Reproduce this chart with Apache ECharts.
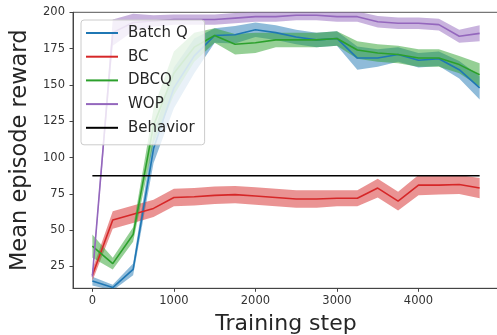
<!DOCTYPE html>
<html>
<head>
<meta charset="utf-8">
<script src="https://cdn.jsdelivr.net/npm/echarts@6/dist/echarts.min.js"></script>
<style>
html,body{margin:0;padding:0;background:#fff;}
#chart{width:497px;height:335px;}
</style>
</head>
<body>
<div id="chart"></div>
<script>
// ---- data ----
var steps = [0, 250, 500, 750, 1000, 1250, 1500, 1750, 2000, 2250, 2500, 2750, 3000, 3250, 3500, 3750, 4000, 4250, 4500, 4750];

var batchQ       = [15, 10.5, 23, 106, 148, 170, 184, 184.5, 188, 186, 183, 181, 182, 168.5, 168.5, 171, 167, 168, 160.5, 148];
var batchQSpread = [3, 2, 4, 10, 14, 12, 5, 6, 5, 5, 5, 5, 5, 8, 6, 5, 5, 5, 6, 8];

var bc           = [19, 57, 61, 65, 72.5, 73, 74, 74.5, 73.5, 72.5, 71.5, 71.5, 72, 72, 79, 70, 81, 81, 81.5, 79];
var bcSpread     = [4, 6, 6, 6, 6, 6, 6, 6, 6, 6, 6, 6, 5.5, 5.5, 6.5, 6.5, 7, 6.5, 6.5, 7];

var dbcq         = [39, 27, 47, 122, 158, 176, 184, 178, 179, 181, 181, 181, 182, 174, 172, 171, 168.5, 168.5, 164, 157];
var dbcqSpread   = [8, 4, 5, 12, 15, 10, 5, 7, 7, 5, 5, 5, 5, 6, 6, 6, 6, 6, 6, 8];

var wop          = [18, 186, 193, 194, 195, 195, 195, 196, 197, 197, 198, 198, 197, 197, 193.5, 192.5, 192.5, 191.5, 183.5, 185.5];
var wopSpread    = [2, 9, 6, 4, 3.5, 3.5, 3.5, 3.5, 3.5, 3.5, 3.5, 3.5, 3.5, 3.5, 4, 4, 4, 4, 4.5, 5.5];

var behaviorSteps  = [0, 4750];
var behaviorReward = [87.5, 87.5];

var xTicks = [0, 1000, 2000, 3000, 4000];
var yTicks = [25, 50, 75, 100, 125, 150, 175, 200];

var seriesNames = ['Batch Q', 'BC', 'DBCQ', 'WOP', 'Behavior'];
var colors = ['#1f77b4', '#d62728', '#2ca02c', '#9467bd', '#000000'];

// ---- build options ----
var FONT = 'DejaVu Sans';
function pairs(xs, ys) { return xs.map(function (x, i) { return [x, ys[i]]; }); }

var series = [];
function addBand(name, color, mean, spread) {
  // band polygon: upper edge forward, lower edge backward (converted by the axes)
  series.push({
    name: name + ' band', type: 'custom', silent: true, clip: true,
    data: [[steps[0], mean[0]]],
    renderItem: function (params, api) {
      var pts = [];
      for (var i = 0; i < steps.length; i++) pts.push(api.coord([steps[i], mean[i] + spread[i]]));
      for (var j = steps.length - 1; j >= 0; j--) pts.push(api.coord([steps[j], mean[j] - spread[j]]));
      return {
        type: 'polygon',
        shape: { points: pts },
        style: { fill: color, opacity: 0.5 }
      };
    }
  });
  series.push({
    name: name, type: 'line', symbol: 'none', data: pairs(steps, mean),
    lineStyle: { color: color, width: 1.6 }, itemStyle: { color: color }
  });
}
addBand(seriesNames[0], colors[0], batchQ, batchQSpread);
addBand(seriesNames[1], colors[1], bc, bcSpread);
addBand(seriesNames[2], colors[2], dbcq, dbcqSpread);
addBand(seriesNames[3], colors[3], wop, wopSpread);
series.push({
  name: seriesNames[4], type: 'line', symbol: 'none',
  data: pairs(behaviorSteps, behaviorReward),
  lineStyle: { color: colors[4], width: 1.6 }, itemStyle: { color: colors[4] }
});

var chart = echarts.init(document.getElementById('chart'), null, { renderer: 'canvas' });
chart.setOption({
  animation: false,
  backgroundColor: '#fff',
  grid: {
    left: 73, top: 12.3, right: -2, bottom: 46.7,
    outerBoundsMode: 'none', containLabel: false,
    show: true, borderColor: '#555', borderWidth: 1, backgroundColor: 'transparent'
  },
  legend: {
    data: seriesNames, orient: 'vertical', left: 81, top: 20,
    icon: 'rect', itemWidth: 32, itemHeight: 2, itemGap: 7.7,
    padding: [5, 10, 9, 5],
    backgroundColor: 'rgba(255,255,255,0.8)', borderColor: '#cccccc', borderWidth: 1, borderRadius: 3,
    textStyle: { fontFamily: FONT, fontSize: 15, color: '#262626', lineHeight: 16, padding: [0, 0, 0, 5] }
  },
  xAxis: {
    type: 'value', min: -237.5, max: 4987.5,
    name: 'Training step', nameLocation: 'middle', nameGap: 25,
    nameTextStyle: { fontFamily: FONT, fontSize: 22, color: '#262626' },
    axisLine: { show: true, onZero: false, lineStyle: { color: '#444', width: 1 } },
    axisTick: { show: true, length: 3.5, customValues: xTicks, lineStyle: { color: '#444' } },
    axisLabel: { customValues: xTicks, fontFamily: FONT, fontSize: 11.5, color: '#333', margin: 7,
                 formatter: function (v) { return String(v); } },
    splitLine: { show: false }
  },
  yAxis: {
    type: 'value', min: 10, max: 200,
    name: 'Mean episode reward', nameLocation: 'middle', nameGap: 40, nameRotate: 90,
    nameTextStyle: { fontFamily: FONT, fontSize: 22.5, color: '#262626' },
    axisLine: { show: true, onZero: false, lineStyle: { color: '#444', width: 1 } },
    axisTick: { show: true, length: 3.5, customValues: yTicks, lineStyle: { color: '#444' } },
    axisLabel: { customValues: yTicks, fontFamily: FONT, fontSize: 11.5, color: '#333', margin: 8 },
    splitLine: { show: false }
  },
  series: series
});
</script>
</body>
</html>
